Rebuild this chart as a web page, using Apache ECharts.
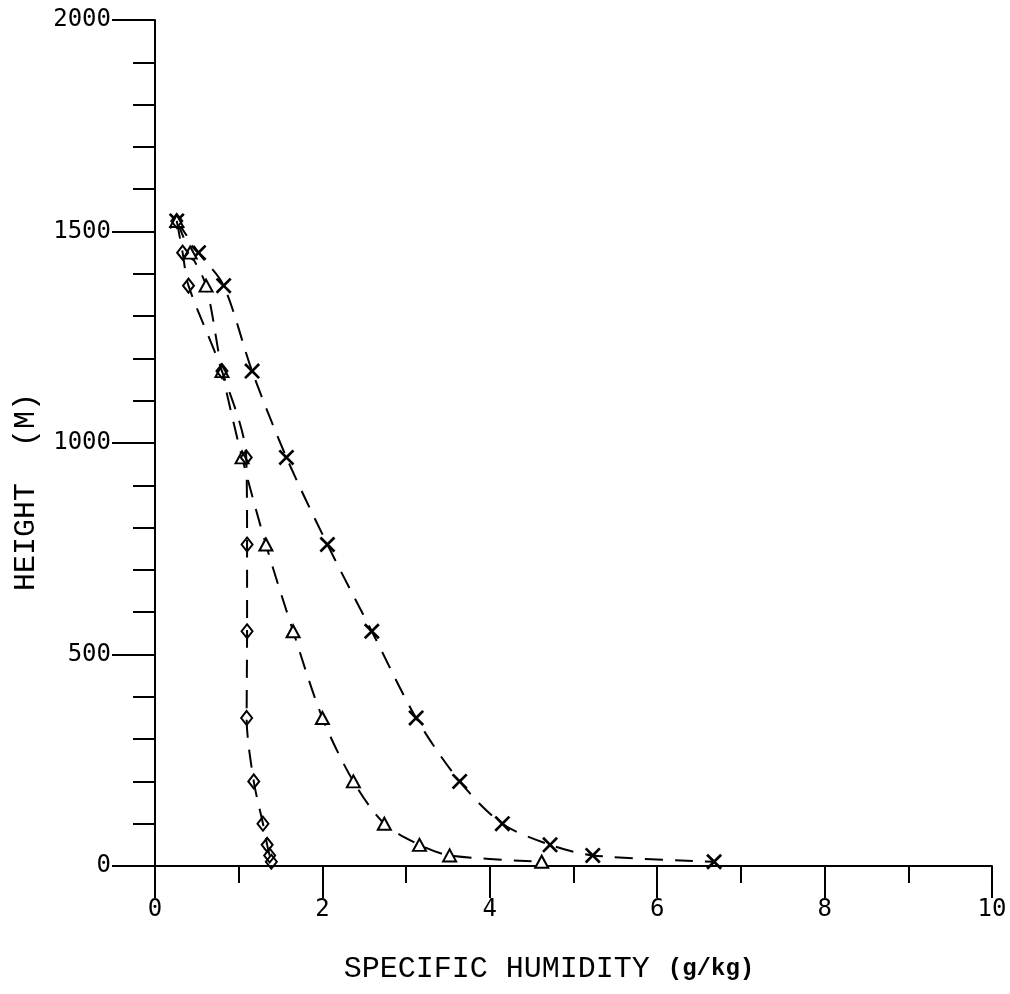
<!DOCTYPE html>
<html>
<head>
<meta charset="utf-8">
<script src="https://cdn.jsdelivr.net/npm/echarts@6/dist/echarts.min.js"></script>
<style>
html,body{margin:0;padding:0;background:#fff;}
#chart{width:1010px;height:994px;}
</style>
</head>
<body>
<div id="chart"></div>
<script>
// Heights (m) of the sounding levels
const heights = [1525, 1450, 1372, 1170, 966, 760, 555, 350, 200, 100, 50, 25, 10];
// Specific humidity (g/kg) for each profile
const diamondQ  = [0.26, 0.33, 0.40, 0.80, 1.09, 1.10, 1.10, 1.095, 1.18, 1.29, 1.34, 1.37, 1.39];
const triangleQ = [0.26, 0.42, 0.61, 0.80, 1.04, 1.325, 1.65, 2.00, 2.37, 2.74, 3.16, 3.52, 4.62];
const crossQ    = [0.26, 0.52, 0.82, 1.16, 1.57, 2.06, 2.59, 3.12, 3.64, 4.15, 4.72, 5.23, 6.68];
const xTicks = [0, 2, 4, 6, 8, 10];
const yTicks = [0, 500, 1000, 1500, 2000];

function pairs(q) { return q.map((v, i) => [v, heights[i]]); }

const crossPath = 'path://M1.2,0L5,3.8L8.8,0L10,1.2L6.2,5L10,8.8L8.8,10L5,6.2L1.2,10L0,8.8L3.8,5L0,1.2Z';

const lineBase = { color: '#000', width: 2, type: [18, 12] };

const chart = echarts.init(document.getElementById('chart'), null, { renderer: 'canvas' });
chart.setOption({
  backgroundColor: '#fff',
  animation: false,
  grid: { left: 155, right: 18, top: 20, bottom: 128, containLabel: false },
  xAxis: {
    type: 'value', min: 0, max: 10, interval: 2,
    name: '{a|SPECIFIC HUMIDITY }{b|(g/kg)}',
    nameLocation: 'middle', nameGap: 88,
    nameTextStyle: {
      padding: [0, 49, 0, 0],
      rich: {
        a: { fontFamily: 'Liberation Mono', fontSize: 30, color: '#000' },
        b: { fontFamily: 'Liberation Mono', fontSize: 24, fontWeight: 'bold', color: '#000' }
      }
    },
    axisLine: { show: true, lineStyle: { color: '#000', width: 2 } },
    axisTick: { show: true, length: 32, lineStyle: { color: '#000', width: 2 } },
    minorTick: { show: true, splitNumber: 2, length: 17, lineStyle: { color: '#000', width: 2 } },
    splitLine: { show: false },
    axisLabel: {
      margin: 32, fontFamily: 'DejaVu Sans Mono', fontSize: 24, color: '#000',
      formatter: v => xTicks.includes(v) ? String(v) : ''
    }
  },
  yAxis: {
    type: 'value', min: 0, max: 2000, interval: 500,
    name: 'HEIGHT  (M)',
    nameLocation: 'middle', nameGap: 114,
    nameTextStyle: { fontFamily: 'Liberation Mono', fontSize: 30, color: '#000', padding: [0, 98, 0, 0] },
    axisLine: { show: true, lineStyle: { color: '#000', width: 2 } },
    axisTick: { show: true, length: 43, lineStyle: { color: '#000', width: 2 } },
    minorTick: { show: true, splitNumber: 5, length: 22, lineStyle: { color: '#000', width: 2 } },
    splitLine: { show: false },
    axisLabel: {
      margin: 44, fontFamily: 'DejaVu Sans Mono', fontSize: 24, color: '#000',
      formatter: v => yTicks.includes(v) ? String(v) : ''
    }
  },
  series: [
    {
      name: 'diamond', type: 'line', data: pairs(diamondQ), smooth: 0.3,
      symbol: 'diamond', symbolSize: [11, 14],
      itemStyle: { color: 'rgba(255,255,255,0)', borderColor: '#000', borderWidth: 2 },
      lineStyle: lineBase, z: 3
    },
    {
      name: 'triangle', type: 'line', data: pairs(triangleQ), smooth: 0.3,
      symbol: 'triangle', symbolSize: [13, 12],
      itemStyle: { color: '#fff', borderColor: '#000', borderWidth: 2 },
      lineStyle: lineBase, z: 2
    },
    {
      name: 'cross', type: 'line', data: pairs(crossQ), smooth: 0.3,
      symbol: crossPath, symbolSize: 16,
      itemStyle: { color: '#000', borderWidth: 0 },
      lineStyle: lineBase, z: 1
    }
  ]
});
</script>
</body>
</html>
